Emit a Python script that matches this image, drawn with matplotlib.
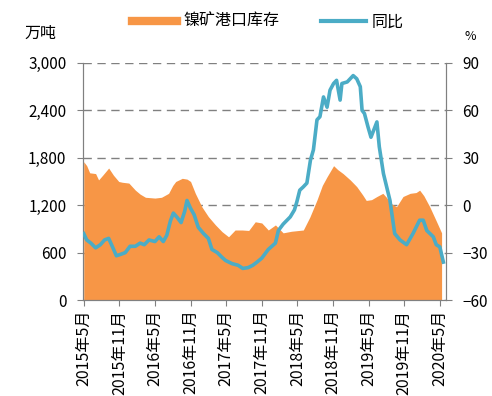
import numpy as np
import matplotlib.pyplot as plt
from matplotlib.lines import Line2D
from matplotlib.ticker import FuncFormatter

plt.rcParams['font.family'] = ['Noto Sans CJK SC', 'DejaVu Sans']

# months since 2015-05
inv_x = [0, 0.5, 1, 2, 2.5, 3.2, 4.2, 5, 5.9, 6.5, 7.6, 8.7, 9.5, 10.4, 12, 13.1,
         14.3, 15, 15.5, 16.6, 17.4, 18, 18.8, 19.9, 21, 22.2, 23.3, 24.4, 25.5,
         26.7, 27.8, 28.9, 30, 31.1, 32.3, 33.6, 35, 37, 38.1, 39.3, 40.2, 41,
         42.1, 42.8, 43.7, 44.9, 46, 47, 47.6, 48.5, 49.4, 50.4, 51, 51.6, 52.7,
         53.8, 55, 56, 56.6, 57.3, 58.3, 59.4, 60.3]
inv_val = [1750, 1700, 1610, 1600, 1520, 1580, 1670, 1580, 1500, 1490, 1480, 1390,
           1340, 1300, 1290, 1300, 1350, 1450, 1500, 1540, 1530, 1500, 1350, 1180,
           1055, 950, 865, 800, 886, 886, 880, 990, 975, 886, 950, 850, 870, 886,
           1050, 1266, 1450, 1560, 1700, 1650, 1600, 1520, 1435, 1330, 1260, 1270,
           1310, 1350, 1300, 1230, 1180, 1310, 1350, 1360, 1390, 1320, 1180, 1000, 850]

yoy_x = [0, 0.5, 1.2, 2, 2.8, 3.5, 4.2, 4.8, 5.5, 6.3, 7, 7.8, 8.7, 9.5, 10.2, 11,
         12, 12.7, 13.4, 14, 14.6, 15.1, 15.8, 16.4, 17, 17.4, 18, 18.6, 19.3,
         20.2, 21, 21.6, 22.5, 23.3, 23.9, 25, 26, 26.8, 27.7, 28.5, 29.2, 30,
         31.1, 32.3, 32.8, 33.6, 34.8, 35.5, 35.9, 36.4, 37, 37.6, 38.2, 38.7,
         39.3, 39.8, 40.4, 41, 41.5, 42.1, 42.6, 43.2, 43.5, 44.4, 45.4, 46, 46.6,
         46.9, 47.3, 47.9, 48.4, 49.4, 49.8, 50.5, 51.6, 52.4, 53.3, 54.4, 55.5,
         56.6, 57.2, 57.8, 58.9, 59.4, 60, 60.6]
yoy_val = [-18, -22, -24, -27, -25, -22, -21, -26, -32, -31, -30, -26, -26, -24,
           -25, -22, -23, -20, -23, -19, -10, -5, -8, -11, -4, 3, -2, -6, -14, -18,
           -21, -28, -30, -33, -35, -37, -38, -40, -39.5, -38, -36, -33.5, -28, -24,
           -16, -12, -7.4, -3, 2, 9.5, 11.6, 14, 28.5, 35, 54, 56, 68.5, 62, 72.8,
           77, 79, 66.5, 77, 78, 82, 80, 75, 60, 58, 49.5, 43, 52.7, 37, 20, 3, -18,
           -22, -25, -17.8, -9.5, -9.5, -16, -20, -25, -26.4, -36]

tick_pos = [0, 6, 12, 18, 24, 30, 36, 42, 48, 54, 60]
tick_labels = ['2015年5月', '2015年11月', '2016年5月', '2016年11月', '2017年5月',
               '2017年11月', '2018年5月', '2018年11月', '2019年5月', '2019年11月',
               '2020年5月']

orange = '#F79646'
blue = '#4BACC6'
gray = '#808080'

fig = plt.figure(figsize=(4.92, 3.96), dpi=100)
ax = fig.add_axes([0.169, 0.2424, 0.737, 0.5986])
ax2 = ax.twinx()

ax.fill_between(inv_x, inv_val, 0, color=orange, lw=0, zorder=2)
ax2.plot(yoy_x, yoy_val, color=blue, lw=2.6, zorder=3)

ax.set_xlim(-0.1, 61)
ax.set_ylim(0, 3000)
ax.set_yticks(np.arange(0, 3001, 600))
ax.yaxis.set_major_formatter(FuncFormatter(lambda v, p: '{:,.0f}'.format(v)))
ax2.set_ylim(-60, 90)
ax2.set_yticks(np.arange(-60, 91, 30))

ax.set_xticks(tick_pos)
ax.set_xticklabels(tick_labels, rotation=90, fontsize=11.5)

ax.grid(axis='y', color=gray, linestyle=(0, (6, 4)), lw=1.0, zorder=0)
ax.set_axisbelow(True)

for a in (ax, ax2):
    a.spines['top'].set_visible(False)
    for s in ('left', 'right', 'bottom'):
        a.spines[s].set_color(gray)
    a.tick_params(colors=gray, labelcolor='black', length=4)
ax.tick_params(axis='y', labelsize=11, pad=8)
ax2.tick_params(axis='y', labelsize=11, pad=8)
ax.tick_params(axis='x', pad=3)

fig.text(0.05, 0.905, '万吨', fontsize=11.5)
fig.text(0.945, 0.9, '%', fontsize=9)

handles = [Line2D([], [], color=orange, lw=6), Line2D([], [], color=blue, lw=3)]
fig.legend(handles, ['镍矿港口库存', '同比'], loc='center', bbox_to_anchor=(0.545, 0.945),
           ncol=2, frameon=False, fontsize=11.5, handlelength=2.8, columnspacing=2.6,
           handletextpad=0.4)

fig.savefig('out.png', dpi=100)
